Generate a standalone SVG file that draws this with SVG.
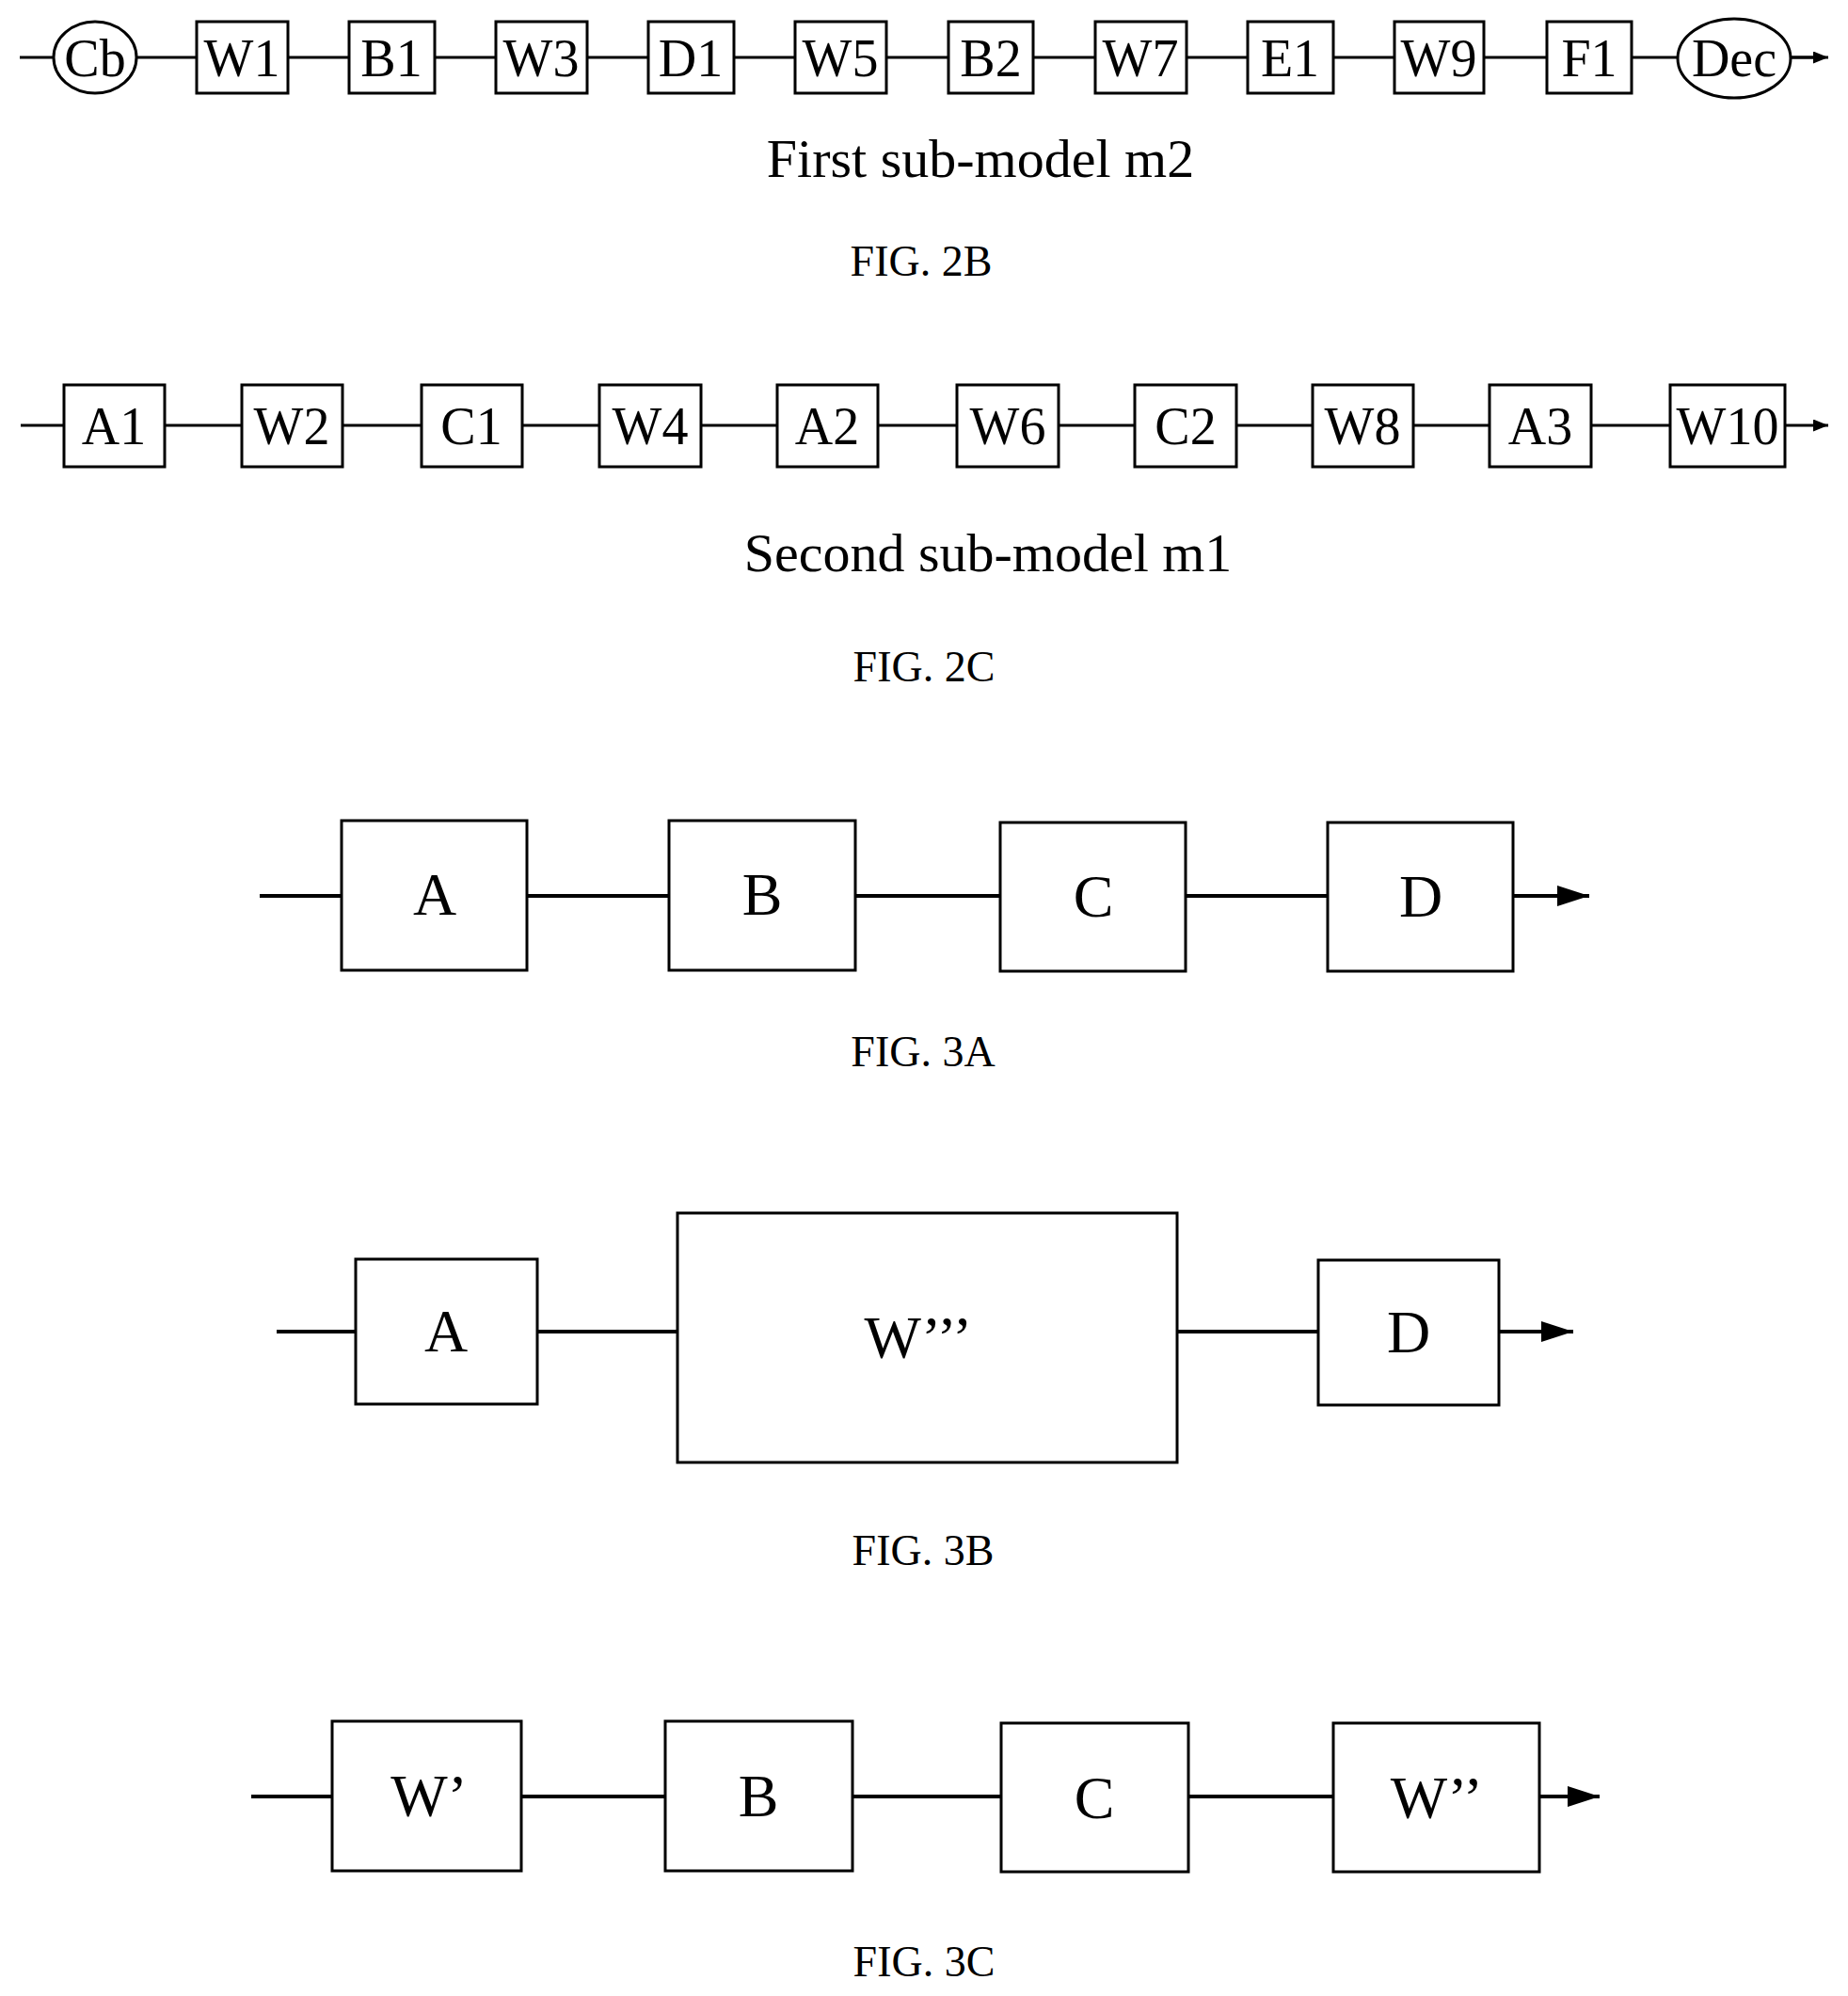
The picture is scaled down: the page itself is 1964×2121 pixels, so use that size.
<svg xmlns="http://www.w3.org/2000/svg" width="1964" height="2121" viewBox="0 0 1964 2121">
<defs>
<style>
.b{fill:#fff;stroke:#000;stroke-width:3}
.l{stroke:#000;stroke-width:3;fill:none}
.t{font-family:"Liberation Serif",serif;fill:#000;text-anchor:middle}
.s{font-size:56px}
.m{font-size:64px}
.f{font-size:46px}
.c{font-size:58px}
</style>
<marker id="ah" viewBox="0 0 10 10" refX="10" refY="5" markerWidth="16" markerHeight="13" markerUnits="userSpaceOnUse" orient="auto" preserveAspectRatio="none"><path d="M0,0L10,5L0,10z"/></marker>
<marker id="ah2" viewBox="0 0 10 10" refX="10" refY="5" markerWidth="34" markerHeight="22" markerUnits="userSpaceOnUse" orient="auto" preserveAspectRatio="none"><path d="M0,0L10,5L0,10z"/></marker>
</defs>
<rect width="1964" height="2121" fill="#fff"/>
<g id="connectors">
<line class="l" x1="21" y1="61" x2="1928" y2="61"/>
<line class="l" x1="1904" y1="61" x2="1943" y2="61" marker-end="url(#ah)"/>
<line class="l" x1="22" y1="452" x2="1897" y2="452"/>
<line class="l" x1="1897" y1="452" x2="1943" y2="452" marker-end="url(#ah)"/>
<line class="l" x1="276" y1="952" x2="1608" y2="952" style="stroke-width:4"/>
<line class="l" x1="1608" y1="952" x2="1689" y2="952" style="stroke-width:4" marker-end="url(#ah2)"/>
<line class="l" x1="294" y1="1415" x2="1593" y2="1415" style="stroke-width:4"/>
<line class="l" x1="1593" y1="1415" x2="1672" y2="1415" style="stroke-width:4" marker-end="url(#ah2)"/>
<line class="l" x1="267" y1="1909" x2="1636" y2="1909" style="stroke-width:4"/>
<line class="l" x1="1636" y1="1909" x2="1700" y2="1909" style="stroke-width:4" marker-end="url(#ah2)"/>
</g>
<g id="Cb"><ellipse class="b" cx="101" cy="61" rx="44" ry="38"/><text class="t s" x="101" y="81">Cb</text></g>
<g id="W1"><rect class="b" x="209" y="23" width="97" height="76"/><text class="t s" x="257" y="81">W1</text></g>
<g id="B1"><rect class="b" x="371" y="23" width="91" height="76"/><text class="t s" x="416" y="81">B1</text></g>
<g id="W3"><rect class="b" x="527" y="23" width="97" height="76"/><text class="t s" x="575" y="81">W3</text></g>
<g id="D1"><rect class="b" x="689" y="23" width="91" height="76"/><text class="t s" x="734" y="81">D1</text></g>
<g id="W5"><rect class="b" x="845" y="23" width="97" height="76"/><text class="t s" x="893" y="81">W5</text></g>
<g id="B2"><rect class="b" x="1008" y="23" width="90" height="76"/><text class="t s" x="1053" y="81">B2</text></g>
<g id="W7"><rect class="b" x="1164" y="23" width="97" height="76"/><text class="t s" x="1212" y="81">W7</text></g>
<g id="E1"><rect class="b" x="1326" y="23" width="91" height="76"/><text class="t s" x="1371" y="81">E1</text></g>
<g id="W9"><rect class="b" x="1482" y="23" width="95" height="76"/><text class="t s" x="1529" y="81">W9</text></g>
<g id="F1"><rect class="b" x="1644" y="23" width="90" height="76"/><text class="t s" x="1689" y="81">F1</text></g>
<g id="Dec"><ellipse class="b" cx="1843" cy="62" rx="60" ry="42"/><text class="t s" x="1843" y="81">Dec</text></g>
<text class="t c" x="1042" y="188">First sub-model m2</text>
<text class="t f" x="979" y="293">FIG. 2B</text>
<g id="A1"><rect class="b" x="68" y="409" width="107" height="87"/><text class="t s" x="121" y="472">A1</text></g>
<g id="W2"><rect class="b" x="257" y="409" width="107" height="87"/><text class="t s" x="310" y="472">W2</text></g>
<g id="C1"><rect class="b" x="448" y="409" width="107" height="87"/><text class="t s" x="501" y="472">C1</text></g>
<g id="W4"><rect class="b" x="637" y="409" width="108" height="87"/><text class="t s" x="691" y="472">W4</text></g>
<g id="A2"><rect class="b" x="826" y="409" width="107" height="87"/><text class="t s" x="879" y="472">A2</text></g>
<g id="W6"><rect class="b" x="1017" y="409" width="108" height="87"/><text class="t s" x="1071" y="472">W6</text></g>
<g id="C2"><rect class="b" x="1206" y="409" width="108" height="87"/><text class="t s" x="1260" y="472">C2</text></g>
<g id="W8"><rect class="b" x="1395" y="409" width="107" height="87"/><text class="t s" x="1448" y="472">W8</text></g>
<g id="A3"><rect class="b" x="1583" y="409" width="108" height="87"/><text class="t s" x="1637" y="472">A3</text></g>
<g id="W10"><rect class="b" x="1775" y="409" width="122" height="87"/><text class="t s" x="1836" y="472">W10</text></g>
<text class="t c" x="1050" y="607">Second sub-model m1</text>
<text class="t f" x="982" y="724">FIG. 2C</text>
<g id="A3a"><rect class="b" x="363" y="872" width="197" height="159"/><text class="t m" x="462" y="972">A</text></g>
<g id="B3a"><rect class="b" x="711" y="872" width="198" height="159"/><text class="t m" x="810" y="972">B</text></g>
<g id="C3a"><rect class="b" x="1063" y="874" width="197" height="158"/><text class="t m" x="1162" y="974">C</text></g>
<g id="D3a"><rect class="b" x="1411" y="874" width="197" height="158"/><text class="t m" x="1510" y="974">D</text></g>
<text class="t f" x="981" y="1133">FIG. 3A</text>
<g id="A3b"><rect class="b" x="378" y="1338" width="193" height="154"/><text class="t m" x="474" y="1436">A</text></g>
<g id="W3b"><rect class="b" x="720" y="1289" width="531" height="265"/><text class="t m" x="976" y="1443">W’’’</text></g>
<g id="D3b"><rect class="b" x="1401" y="1339" width="192" height="154"/><text class="t m" x="1497" y="1437">D</text></g>
<text class="t f" x="981" y="1663">FIG. 3B</text>
<g id="W1c"><rect class="b" x="353" y="1829" width="201" height="159"/><text class="t m" x="456" y="1930">W’</text></g>
<g id="B3c"><rect class="b" x="707" y="1829" width="199" height="159"/><text class="t m" x="806" y="1930">B</text></g>
<g id="C3c"><rect class="b" x="1064" y="1831" width="199" height="158"/><text class="t m" x="1163" y="1932">C</text></g>
<g id="W2c"><rect class="b" x="1417" y="1831" width="219" height="158"/><text class="t m" x="1527" y="1932">W’’</text></g>
<text class="t f" x="982" y="2100">FIG. 3C</text>
</svg>
